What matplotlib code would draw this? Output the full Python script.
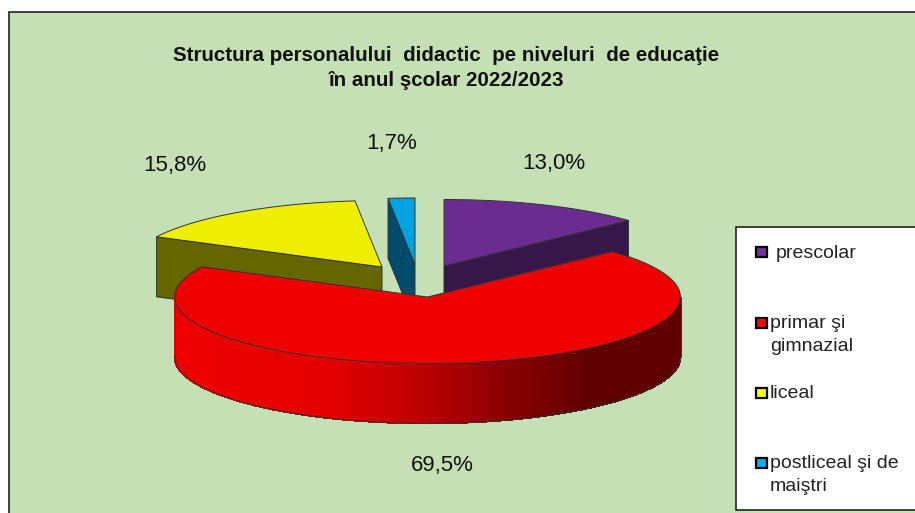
import numpy as np
import matplotlib
matplotlib.use("Agg")
import matplotlib.pyplot as plt
from matplotlib.patches import Polygon, Rectangle
from matplotlib.collections import PolyCollection

plt.rcParams["font.family"] = ["Liberation Sans", "DejaVu Sans"]

# date
categories = ["prescolar", "primar şi\ngimnazial", "liceal", "postliceal şi de\nmaiştri"]
values = [13.0, 69.5, 15.8, 1.7]
value_labels = ["13,0%", "69,5%", "15,8%", "1,7%"]
title = "Structura personalului  didactic  pe niveluri  de educaţie\nîn anul şcolar 2022/2023"

top_colors = ["#6B2C91", "#EE0000", "#EEEE00", "#00A3E0"]
side_colors = ["#35174A", "#600000", "#666600", "#004B6B"]
legend_colors = ["#7030A0", "#FF0000", "#FFFF00", "#00B0F0"]
edge = "#333333"

# geometrie: fiecare felie e scoasa din centru (explode), deci are centrul ei
rx, ry, depth = 253, 66.5, 60
centers = [(444, 266), (427.5, 297), (382, 267), (415, 264.5)]
label_pos = [(554, 164), (442, 466), (175, 165), (392, 143)]
legend_y = [252, 323, 393, 463]
legend_tx = [776, 770, 770, 770]

bounds = np.cumsum([0] + values) * 3.6


def rim(c, a0, a1, n=80):
    a = np.radians(np.linspace(a0, a1, n))
    return np.column_stack([c[0] + rx * np.sin(a), c[1] - ry * np.cos(a)])


def top_face(i):
    return np.vstack([[centers[i]], rim(centers[i], bounds[i], bounds[i + 1])])


def cut_face(c, ang):
    p = rim(c, ang, ang, 1)[0]
    return [c, p, (p[0], p[1] + depth), (c[0], c[1] + depth)]


fig = plt.figure(figsize=(9.15, 5.13), dpi=100, facecolor="white")
ax = fig.add_axes([0, 0, 1, 1])
ax.set_xlim(0, 915)
ax.set_ylim(513, 0)
ax.axis("off")

# fundal
ax.add_patch(Rectangle((8.5, 12), 915, 510, fc="#C5E0B4", ec="#222222", lw=1.2, zorder=0))

# feliile din spate: fata taiata apoi capacul
ax.add_patch(Polygon(cut_face(centers[2], bounds[2]), fc=side_colors[2], ec=edge, lw=0.7, zorder=2))
ax.add_patch(Polygon(top_face(2), fc=top_colors[2], ec=edge, lw=0.7, zorder=3))
ax.add_patch(Polygon(cut_face(centers[3], bounds[3]), fc=side_colors[3], ec=edge, lw=0.7, zorder=2))
ax.add_patch(Polygon(top_face(3), fc=top_colors[3], ec=edge, lw=0.7, zorder=3))
ax.add_patch(Polygon(cut_face(centers[0], bounds[1]), fc=side_colors[0], ec=edge, lw=0.7, zorder=2))
ax.add_patch(Polygon(top_face(0), fc=top_colors[0], ec=edge, lw=0.7, zorder=3))

# felia rosie: peretele cu gradient pe benzi verticale
arc = rim(centers[1], 90, 270, 361)
stop_x = [175, 330, 430, 500, 585, 681]
stop_rgb = np.array([[238, 0, 0], [228, 0, 0], [184, 0, 0], [140, 0, 0], [96, 0, 0], [96, 0, 0]]) / 255
strips, strip_colors = [], []
for p, q in zip(arc[:-1], arc[1:]):
    strips.append([p, q, (q[0], q[1] + depth), (p[0], p[1] + depth)])
    xm = (p[0] + q[0]) / 2
    strip_colors.append([np.interp(xm, stop_x, stop_rgb[:, k]) for k in range(3)])
ax.add_collection(PolyCollection(strips, facecolors=strip_colors, edgecolors=strip_colors,
                                 linewidths=0.5, antialiaseds=False, zorder=4))
ax.plot(arc[:, 0], arc[:, 1] + depth, color=edge, lw=0.8, zorder=5)
for x0, y0 in (arc[0], arc[-1]):
    ax.plot([x0, x0], [y0, y0 + depth], color=edge, lw=0.7, zorder=5)
ax.add_patch(Polygon(top_face(1), fc=top_colors[1], ec=edge, lw=0.7, zorder=6))

# etichete valori
for (x, y), s in zip(label_pos, value_labels):
    ax.text(x, y, s, ha="center", va="center", fontsize=16, color="#111111", zorder=8)

ax.text(446.5, 68, title, ha="center", va="center", fontsize=14.8, fontweight="bold",
        linespacing=1.42, color="#111111", zorder=8)

# legenda
ax.add_patch(Rectangle((736, 227), 190, 283, fc="white", ec="#222222", lw=1.2, zorder=7))
for c, y, tx, s in zip(legend_colors, legend_y, legend_tx, categories):
    ax.add_patch(Rectangle((756, y - 5), 11, 10, fc=c, ec="black", lw=1.6, zorder=8))
    ax.text(tx, y - 7.5, s, ha="left", va="top", fontsize=14, linespacing=1.45,
            color="#222222", zorder=8)

fig.savefig("out.png", dpi=100)
